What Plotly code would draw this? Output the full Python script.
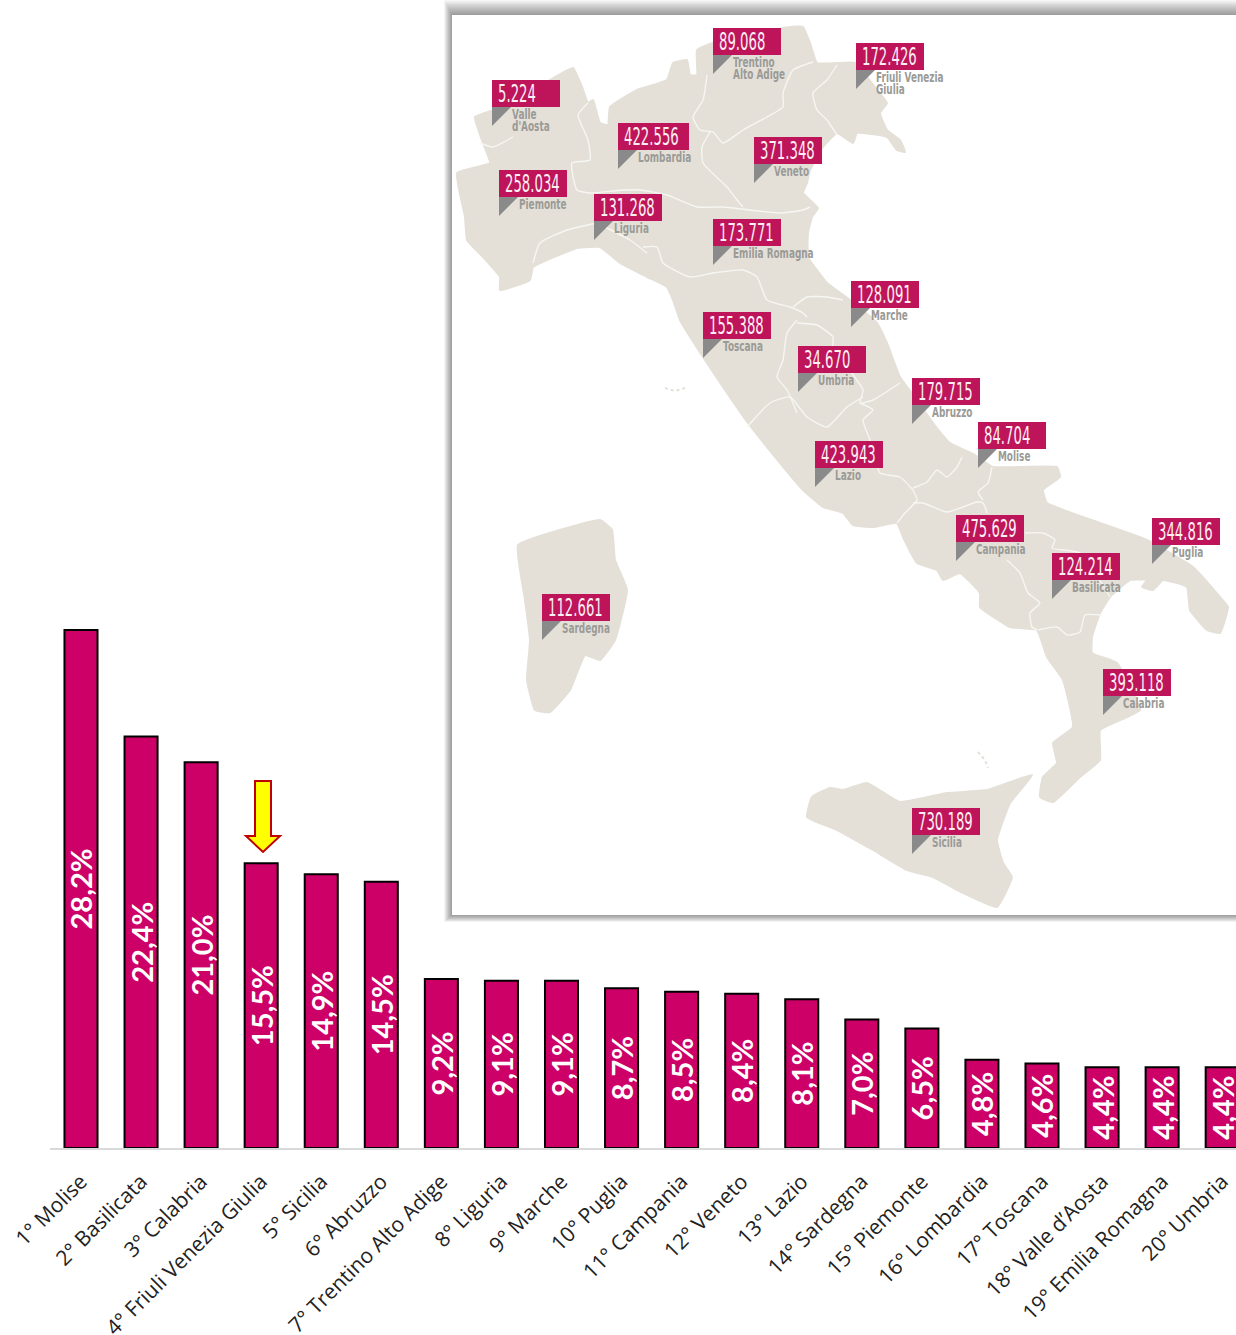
import plotly.graph_objects as go

# ---- bar chart data ----
categories = ["1° Molise", "2° Basilicata", "3° Calabria", "4° Friuli Venezia Giulia", "5° Sicilia",
              "6° Abruzzo", "7° Trentino Alto Adige", "8° Liguria", "9° Marche", "10° Puglia",
              "11° Campania", "12° Veneto", "13° Lazio", "14° Sardegna", "15° Piemonte",
              "16° Lombardia", "17° Toscana", "18° Valle d’Aosta", "19° Emilia Romagna", "20° Umbria"]
shares = [28.2, 22.4, 21.0, 15.5, 14.9, 14.5, 9.2, 9.1, 9.1, 8.7, 8.5, 8.4, 8.1, 7.0, 6.5, 4.8, 4.6, 4.4, 4.4, 4.4]
share_labels = [f"{v:.1f}%".replace(".", ",") for v in shares]

# ---- map callouts ----
region_names = ["Trentino<br>Alto Adige", "Friuli Venezia<br>Giulia", "Valle<br>d'Aosta", "Lombardia", "Veneto",
                "Piemonte", "Liguria", "Emilia Romagna", "Marche", "Toscana", "Umbria", "Abruzzo", "Molise",
                "Lazio", "Campania", "Puglia", "Basilicata", "Calabria", "Sicilia", "Sardegna"]
region_values = [89068, 172426, 5224, 422556, 371348, 258034, 131268, 173771, 128091, 155388, 34670, 179715,
                 84704, 423943, 475629, 344816, 124214, 393118, 730189, 112661]
region_x = [713, 856, 492, 618, 754, 499, 594, 713, 851, 703, 798, 912, 978, 815, 956, 1152, 1052, 1103, 912, 542]
region_y = [28, 43, 80, 123, 137, 170, 194, 219, 281, 312, 346, 378, 422, 441, 515, 518, 553, 669, 808, 594]

# ---- map outlines (picture pixels) ----
mainland = [(475,117),(510,105),(550,80),(573,68),(582,87),(588,103),(593,100),(600,123),(608,125),(610,107),
 (637,90),(667,80),(673,63),(687,60),(690,75),(697,75),(697,50),(713,43),(783,28),(803,27),(810,43),(817,63),
 (837,63),(855,63),(877,90),(887,103),(880,113),(887,130),(900,140),(905,152),(897,150),(887,137),(857,133),
 (853,143),(837,133),(823,147),(810,170),(807,183),(803,193),(818,208),(812,217),(808,233),(808,257),(827,283),
 (850,300),(877,323),(887,343),(900,377),(917,400),(933,423),(950,443),(975,455),(993,467),(1057,467),(1060,477),
 (1043,490),(1047,503),(1100,523),(1147,540),(1193,567),(1220,597),(1228,607),(1220,633),(1207,630),(1190,610),
 (1187,587),(1163,580),(1153,590),(1142,587),(1147,580),(1130,580),(1110,597),(1100,613),(1092,637),(1092,653),
 (1117,663),(1140,710),(1127,717),(1100,730),(1100,760),(1080,777),(1053,802),(1040,797),(1043,777),(1057,763),
 (1053,743),(1073,727),(1063,680),(1047,657),(1037,630),(1010,627),(980,607),(980,593),(960,573),(943,580),
 (937,570),(917,563),(903,537),(897,523),(873,527),(853,525),(843,513),(823,507),(803,490),(780,463),(748,423),
 (727,393),(703,357),(680,320),(673,300),(667,287),(647,277),(620,263),(600,247),(577,248),(547,260),(533,267),
 (530,280),(500,290),(500,277),(483,257),(467,240),(465,217),(457,173),(490,163),(483,143),(475,117)]
sardinia = [(518,545),(560,530),(600,520),(612,530),(615,560),(627,590),(615,640),(600,660),(585,655),(570,690),
            (550,712),(535,710),(527,680),(530,640),(525,600),(518,545)]
sicily = [(807,817),(812,797),(830,788),(843,790),(867,783),(900,802),(947,793),(987,790),(1032,775),(1010,803),
          (997,840),(1003,863),(1012,877),(997,907),(957,890),(933,877),(907,870),(873,850),(837,830),(807,817)]
elba = [(665,388),(675,391),(685,388)]
lipari = [(978,752),(985,760),(988,768)]
borders = [
 [(480,143),(493,147),(513,137)],
 [(588,103),(578,115),(588,140),(590,160),(572,163),(577,190),(590,193),(623,190),(640,190),(667,195),(697,207),
  (723,207),(780,213),(803,210),(810,207)],
 [(710,132),(702,147),(703,163),(727,187),(737,200),(743,207)],
 [(707,75),(703,100),(693,117),(700,130),(713,132),(723,143),(743,130),(767,117),(783,107),(783,93),(793,70),(813,62)],
 [(837,65),(827,80),(813,93),(817,110),(827,120),(837,135)],
 [(597,223),(567,230),(540,243),(533,263)],
 [(597,223),(630,240),(647,253)],
 [(643,247),(657,247),(663,263),(690,277),(713,273),(743,270),(757,277),(767,300),(790,307),(803,313),(807,317)],
 [(793,307),(807,297),(827,297),(843,300)],
 [(797,320),(787,333),(783,360),(777,377),(787,390),(797,413)],
 [(797,323),(817,325),(833,337),(833,347),(863,390),(860,403),(873,400),(900,383)],
 [(863,397),(847,407),(827,427),(807,417),(790,397),(770,403),(747,427)],
 [(860,403),(873,410),(863,420),(870,440),(880,473),(900,477),(913,490)],
 [(913,490),(917,500),(905,513),(897,523)],
 [(913,488),(927,482),(937,470),(947,477),(957,467),(962,457)],
 [(992,467),(988,483),(978,492),(983,500)],
 [(913,503),(923,503),(947,512),(977,502),(983,503),(987,513)],
 [(1025,533),(1043,533),(1055,540),(1052,548),(1080,553),(1110,597)],
 [(1007,560),(1020,573),(1028,593),(1040,603),(1030,613),(1032,627),(1037,630)],
 [(1038,630),(1057,627),(1067,635),(1080,632),(1085,615),(1102,615)],
]

PINK = "#CC0066"
CALLOUT = "#BE1459"
BEIGE = "#E4E0D8"

fig = go.Figure()
fig.add_bar(x=categories, y=shares, width=0.55, text=share_labels, textposition="inside",
            insidetextanchor="middle", textangle=-90, constraintext="none", cliponaxis=True,
            textfont=dict(family="Lato", size=29, color="white", weight="bold"),
            marker=dict(color=PINK, line=dict(color="black", width=2)), hoverinfo="skip")

for poly in (mainland, sardinia, sicily):
    fig.add_scatter(x=[p[0] for p in poly], y=[p[1] for p in poly], xaxis="x2", yaxis="y2", mode="lines",
                    fill="toself", fillcolor=BEIGE, line=dict(color=BEIGE, width=2, shape="spline", smoothing=0.35),
                    hoverinfo="skip")
for line in (elba, lipari):
    fig.add_scatter(x=[p[0] for p in line], y=[p[1] for p in line], xaxis="x2", yaxis="y2", mode="lines",
                    line=dict(color=BEIGE, width=2, dash="dot"), hoverinfo="skip")
for line in borders:
    fig.add_scatter(x=[p[0] for p in line], y=[p[1] for p in line], xaxis="x2", yaxis="y2", mode="lines",
                    line=dict(color="#F7F6F2", width=1.4, shape="spline", smoothing=0.5), hoverinfo="skip")

shapes = []
# panel shadow, then the panel itself
steps = 14
for k in range(steps, 0, -1):
    f = k / steps
    shapes.append(dict(type="rect", layer="below", xref="x2", yref="y2", x0=452 - 8 * f, x1=1245,
                       y0=15 - 15 * f, y1=915 + 7 * f, line_width=0, fillcolor="rgba(0,0,0,0.03)"))
shapes.append(dict(type="rect", layer="below", xref="x2", yref="y2", x0=452, x1=1245, y0=15, y1=915,
                   line_width=0, fillcolor="white"))
# highlight arrow
shapes.append(dict(type="path", layer="above", xref="x2", yref="y2",
                   path="M255,781 L271,781 L271,836 L280,836 L263,852 L246,836 L255,836 Z",
                   fillcolor="#FFFF00", line=dict(color="#C00000", width=2)))

annotations = []
for name, val, x, y in zip(region_names, region_values, region_x, region_y):
    label = f"{val:,}".replace(",", ".")
    w = 71 if label.startswith("422") else 68
    shapes.append(dict(type="rect", layer="above", xref="x2", yref="y2", x0=x, x1=x + w, y0=y, y1=y + 27,
                       line_width=0, fillcolor=CALLOUT))
    shapes.append(dict(type="path", layer="above", xref="x2", yref="y2",
                       path=f"M{x},{y+27} L{x+19},{y+27} L{x},{y+46} Z", line_width=0, fillcolor="#8A8A8A"))
    annotations.append(dict(xref="x2", yref="y2", x=x + 4, y=y + 13, xanchor="left", yanchor="middle",
                            text=label, showarrow=False,
                            font=dict(family="DejaVu Sans", size=25, color="#FBEFF4")))
    for i, part in enumerate(name.split("<br>")):
        annotations.append(dict(xref="x2", yref="y2", x=x + 18, y=y + 34 + 12 * i, xanchor="left", yanchor="middle",
                                text=part, showarrow=False,
                                font=dict(family="DejaVu Sans", size=13.5, color="#9A9A96", weight="bold")))

fig.update_layout(
    width=1236, height=1335, autosize=False, margin=dict(l=0, r=0, t=0, b=0, pad=0),
    paper_bgcolor="white", plot_bgcolor="rgba(0,0,0,0)", showlegend=False, bargap=0.45,
    xaxis=dict(domain=[50 / 1236, 1], range=[-0.516, 19.23], type="category", tickangle=-45,
               tickfont=dict(family="Open Sans", size=21, color="#222222"), showgrid=False,
               showline=True, linecolor="#D9D9D9", linewidth=2, ticks="outside", ticklen=11, tickcolor="rgba(0,0,0,0)",
               anchor="y", automargin=False),
    yaxis=dict(domain=[(1335 - 1148) / 1335, 1], range=[0, 1148 / 18.37], visible=False, anchor="x"),
    xaxis2=dict(domain=[0, 1], range=[0, 1236], visible=False, anchor="y2"),
    yaxis2=dict(domain=[0, 1], range=[1335, 0], visible=False, anchor="x2"),
    shapes=shapes, annotations=annotations,
)

# The map's callouts use a very condensed face; no such font is installed, so squeeze the real text horizontally.
post = """
document.body.style.margin='0';document.body.style.overflow='hidden';
document.querySelectorAll('text.annotation-text').forEach(function(t){
  var s=/^[\\d.]+$/.test(t.textContent)?0.53:0.66;
  var b=t.getBBox();var old=t.getAttribute('transform')||'';
  t.setAttribute('transform',old+' translate('+b.x+',0) scale('+s+',1) translate('+(-b.x)+',0)');
});
"""
fig.write_html("out.html", config=dict(displayModeBar=False), post_script=post)
